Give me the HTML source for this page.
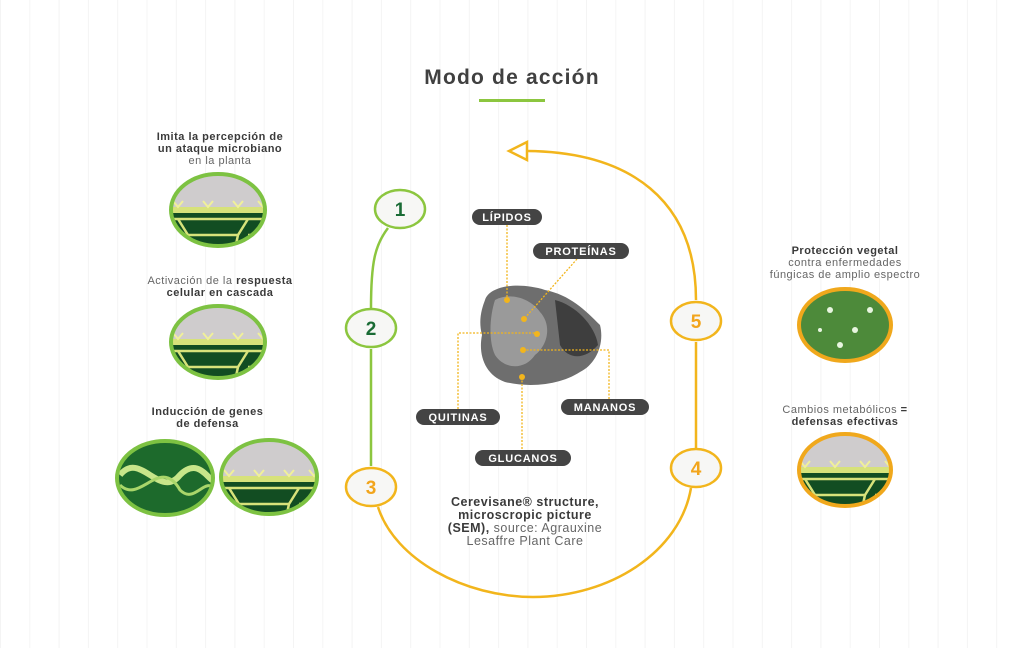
<!DOCTYPE html>
<html><head><meta charset="utf-8"><style>
body{margin:0;width:1024px;height:648px;overflow:hidden;background:#fff;font-family:"Liberation Sans",sans-serif}
svg{position:absolute;left:0;top:0}
.t{position:absolute;text-align:center;color:#666;font-size:11px;line-height:12px;letter-spacing:.5px}
.t b{color:#3a3a3a}
</style></head><body>
<svg width="1024" height="648" viewBox="0 0 1024 648">
<defs>
<pattern id="vl" width="29.3" height="648" patternUnits="userSpaceOnUse"><rect x="0" width="1" height="648" fill="#f4f4f4"/></pattern>
<clipPath id="c1"><ellipse cx="218" cy="210" rx="46" ry="35"/></clipPath>
<clipPath id="c2"><ellipse cx="218" cy="342" rx="46" ry="35"/></clipPath>
<clipPath id="c3"><ellipse cx="165" cy="478" rx="47" ry="36"/></clipPath>
<clipPath id="c4"><ellipse cx="269" cy="477" rx="47" ry="36"/></clipPath>
<clipPath id="c5"><ellipse cx="845" cy="325" rx="45" ry="35"/></clipPath>
<clipPath id="c6"><ellipse cx="845" cy="470" rx="45" ry="35"/></clipPath>
<g id="cell">
<rect x="-60" y="-45" width="120" height="90" fill="#124d22"/>
<rect x="-60" y="-45" width="120" height="40" fill="#cfcccd"/>
<rect x="-60" y="-6" width="120" height="6" fill="#d7e27a"/>
<path d="M-60,6 H60 M-40,6 L-30,22 H20 L30,6 M-30,22 L-25,45 M20,22 L15,45 M30,22 H60 M-60,20 H-35" stroke="#d7e27a" stroke-width="2.5" fill="none"/>
<path d="M-45,-12 l5,6 l5,-6 M-15,-12 l5,6 l5,-6 M15,-12 l5,6 l5,-6 M40,-12 l5,6 l5,-6" stroke="#f0f09a" stroke-width="2" fill="none"/>
</g>
</defs>
<rect width="1024" height="648" fill="url(#vl)"/>
<text x="512" y="84" text-anchor="middle" font-size="21" font-weight="bold" fill="#404040" letter-spacing="1.2">Modo de acción</text>
<rect x="479" y="99" width="66" height="3" fill="#8cc63f"/>
<path d="M388,228 C375,245 371,262 371,308 M371,349 V466" stroke="#8cc63f" stroke-width="2.5" fill="none"/>
<path d="M378,507 C395,560 465,597 533,597 C610,597 680,552 691,488" stroke="#f2b51c" stroke-width="2.5" fill="none"/>
<path d="M696,448 V342 M696,300 C696,200 630,152 527,151" stroke="#f2b51c" stroke-width="2.5" fill="none"/>
<path d="M527,142 L509,151 L527,160 Z" fill="#fff" stroke="#f2b51c" stroke-width="2.5"/>
<g font-weight="bold" font-size="19" text-anchor="middle">
<ellipse cx="400" cy="209" rx="25" ry="19" fill="#f7f7f5" stroke="#8cc63f" stroke-width="2.5"/><text x="400" y="216" fill="#1a6b35">1</text>
<ellipse cx="371" cy="328" rx="25" ry="19" fill="#f7f7f5" stroke="#8cc63f" stroke-width="2.5"/><text x="371" y="335" fill="#1a6b35">2</text>
<ellipse cx="371" cy="487" rx="25" ry="19" fill="#f7f7f5" stroke="#f2b51c" stroke-width="2.5"/><text x="371" y="494" fill="#f2a51c">3</text>
<ellipse cx="696" cy="468" rx="25" ry="19" fill="#f7f7f5" stroke="#f2b51c" stroke-width="2.5"/><text x="696" y="475" fill="#f2a51c">4</text>
<ellipse cx="696" cy="321" rx="25" ry="19" fill="#f7f7f5" stroke="#f2b51c" stroke-width="2.5"/><text x="696" y="328" fill="#f2a51c">5</text>
</g>
<g clip-path="url(#c1)"><use href="#cell" transform="translate(218,213)"/></g>
<ellipse cx="218" cy="210" rx="47" ry="36" fill="none" stroke="#7dc242" stroke-width="4"/>
<g clip-path="url(#c2)"><use href="#cell" transform="translate(218,345)"/></g>
<ellipse cx="218" cy="342" rx="47" ry="36" fill="none" stroke="#7dc242" stroke-width="4"/>
<g clip-path="url(#c3)"><rect x="110" y="435" width="110" height="90" fill="#1d6a2c"/>
<path d="M120,475 C140,450 160,500 180,475 C200,455 210,485 215,480" stroke="#c8e68a" stroke-width="6" fill="none"/>
<path d="M120,485 C140,505 160,455 180,490 C195,505 205,475 215,490" stroke="#a9d66a" stroke-width="3" fill="none"/></g>
<ellipse cx="165" cy="478" rx="48" ry="37" fill="none" stroke="#7dc242" stroke-width="4"/>
<g clip-path="url(#c4)"><use href="#cell" transform="translate(269,482)"/></g>
<ellipse cx="269" cy="477" rx="48" ry="37" fill="none" stroke="#7dc242" stroke-width="4"/>
<g clip-path="url(#c5)"><rect x="795" y="285" width="100" height="80" fill="#4d8a3a"/>
<circle cx="830" cy="310" r="3" fill="#e8f5e0"/><circle cx="855" cy="330" r="3" fill="#e8f5e0"/><circle cx="870" cy="310" r="3" fill="#e8f5e0"/><circle cx="840" cy="345" r="3" fill="#e8f5e0"/><circle cx="820" cy="330" r="2" fill="#e8f5e0"/></g>
<ellipse cx="845" cy="325" rx="46" ry="36" fill="none" stroke="#f0a81c" stroke-width="4"/>
<g clip-path="url(#c6)"><use href="#cell" transform="translate(845,473)"/></g>
<ellipse cx="845" cy="470" rx="46" ry="36" fill="none" stroke="#f0a81c" stroke-width="4"/>
<path d="M485,300 C490,285 520,282 545,290 C570,295 585,310 600,325 C605,345 595,365 580,372 C560,385 530,388 505,382 C485,375 478,355 482,335 C478,320 482,308 485,300 Z" fill="#6e6e6e"/>
<path d="M495,300 C510,292 530,298 540,312 C552,325 548,345 535,355 C525,370 505,370 495,355 C488,340 490,315 495,300Z" fill="#9a9a9a"/>
<path d="M555,300 C575,305 595,325 598,345 C585,360 568,360 560,345Z" fill="#3e3e3e"/>
<g stroke="#f2b51c" stroke-width="1.3" stroke-dasharray="2,1.5" fill="none">
<path d="M507,225 V300 M577,259 L524,319 M458,409 V333 H537 M523,350 H609 V399 M522,377 V450"/>
</g>
<g fill="#f2b51c"><circle cx="507" cy="300" r="3"/><circle cx="524" cy="319" r="3"/><circle cx="537" cy="334" r="3"/><circle cx="523" cy="350" r="3"/><circle cx="522" cy="377" r="3"/></g>
<g font-size="11" font-weight="bold" fill="#fff" text-anchor="middle" letter-spacing="0.8">
<rect x="472" y="209" width="70" height="16" rx="8" fill="#444"/><text x="507" y="221">LÍPIDOS</text>
<rect x="533" y="243" width="96" height="16" rx="8" fill="#444"/><text x="581" y="255">PROTEÍNAS</text>
<rect x="416" y="409" width="84" height="16" rx="8" fill="#444"/><text x="458" y="421">QUITINAS</text>
<rect x="561" y="399" width="88" height="16" rx="8" fill="#444"/><text x="605" y="411">MANANOS</text>
<rect x="475" y="450" width="96" height="16" rx="8" fill="#444"/><text x="523" y="462">GLUCANOS</text>
</g>
</svg>
<div class="t" style="left:120px;top:131px;width:200px"><b>Imita la percepción de<br>un ataque microbiano</b><br>en la planta</div>
<div class="t" style="left:120px;top:275px;width:200px">Activación de la <b>respuesta<br>celular en cascada</b></div>
<div class="t" style="left:120px;top:406px;width:175px"><b>Inducción de genes<br>de defensa</b></div>
<div class="t" style="left:755px;top:245px;width:180px"><b>Protección vegetal</b><br>contra enfermedades<br>fúngicas de amplio espectro</div>
<div class="t" style="left:755px;top:404px;width:180px">Cambios metabólicos <b>=<br>defensas efectivas</b></div>
<div class="t" style="left:425px;top:496px;width:200px;font-size:12.5px;line-height:13px"><b>Cerevisane® structure,<br>microscropic picture<br>(SEM),</b> source: Agrauxine<br>Lesaffre Plant Care</div>
</body></html>
